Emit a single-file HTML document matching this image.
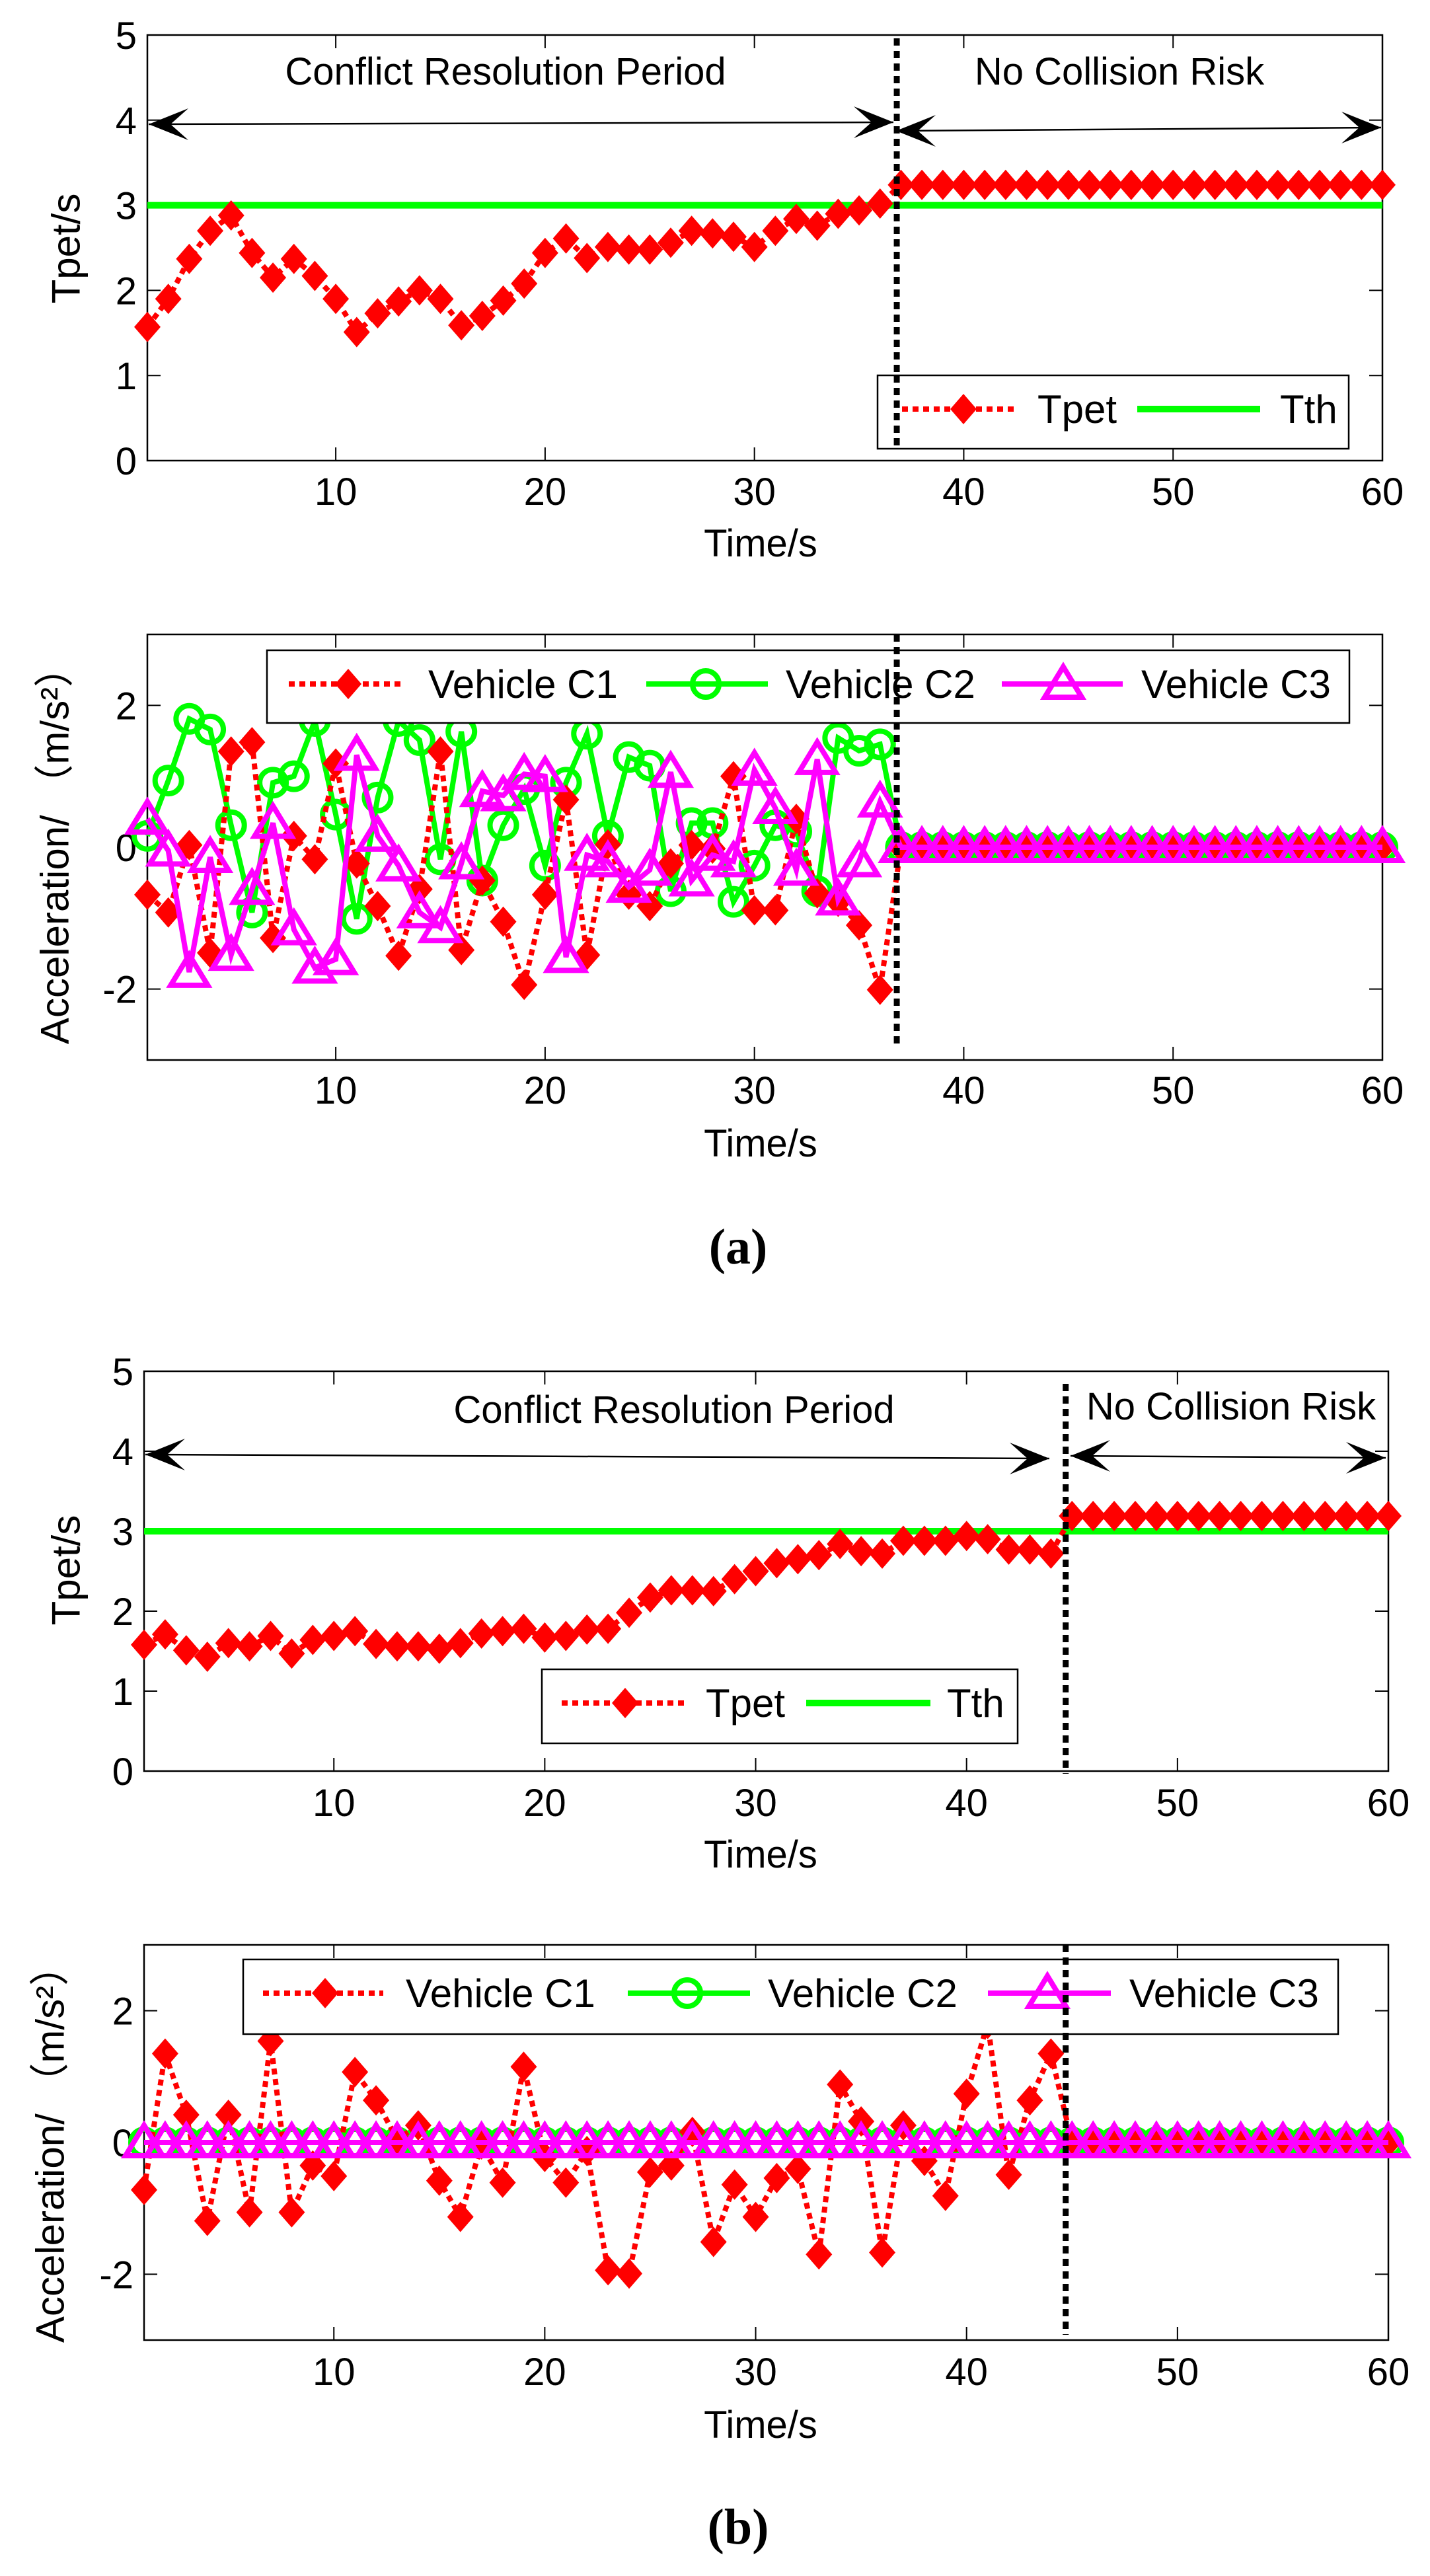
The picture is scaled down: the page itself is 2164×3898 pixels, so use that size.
<!DOCTYPE html>
<html><head><meta charset="utf-8"><style>
html,body{margin:0;padding:0;background:#fff;}
svg{display:block;font-family:"Liberation Sans",sans-serif;}
</style></head><body>
<svg id="fig" width="2164" height="3898" viewBox="0 0 2164 3898" xmlns="http://www.w3.org/2000/svg"></svg>
<script>
// ---------- data ----------
const timeSteps = Array.from({length:60},(_,i)=>i+1);
const tpetA = [1.57,1.9,2.37,2.7,2.88,2.44,2.15,2.37,2.17,1.9,1.51,1.73,1.87,2.0,1.9,1.59,1.7,1.88,2.08,2.44,2.61,2.38,2.51,2.48,2.48,2.56,2.7,2.67,2.63,2.51,2.7,2.84,2.76,2.9,2.94,3.02,
 3.24,3.24,3.24,3.24,3.24,3.24,3.24,3.24,3.24,3.24,3.24,3.24,3.24,3.24,3.24,3.24,3.24,3.24,3.24,3.24,3.24,3.24,3.24,3.24];
const tthA = 3;
const accC1A = [-0.67,-0.92,0.03,-1.49,1.35,1.48,-1.28,0.16,-0.17,1.18,-0.23,-0.83,-1.53,-0.59,1.35,-1.45,-0.47,-1.05,-1.94,-0.67,0.67,-1.52,0.04,-0.67,-0.83,-0.23,0.03,-0.02,1.0,-0.89,-0.89,0.4,-0.65,-0.77,-1.1,-2.01,
 0,0,0,0,0,0,0,0,0,0,0,0,0,0,0,0,0,0,0,0,0,0,0,0];
const accC2A = [0.16,0.94,1.81,1.66,0.31,-0.92,0.91,1.0,1.78,0.46,-1.01,0.7,1.78,1.51,-0.17,1.63,-0.47,0.31,0.82,-0.26,0.91,1.6,0.16,1.27,1.15,-0.62,0.34,0.34,-0.77,-0.26,0.31,0.22,-0.62,1.54,1.36,1.45,
 0,0,0,0,0,0,0,0,0,0,0,0,0,0,0,0,0,0,0,0,0,0,0,0];
const accC3A = [0.4,-0.05,-1.76,-0.14,-1.52,-0.59,0.34,-1.16,-1.7,-1.58,1.3,0.16,-0.26,-0.92,-1.13,-0.23,0.79,0.73,1.03,1.0,-1.55,-0.11,-0.2,-0.56,-0.32,1.06,-0.47,-0.11,-0.2,1.09,0.55,-0.32,1.24,-0.74,-0.2,0.64,
 0,0,0,0,0,0,0,0,0,0,0,0,0,0,0,0,0,0,0,0,0,0,0,0];
const switchA = 36.8;

const tpetB = [1.58,1.71,1.51,1.43,1.6,1.56,1.69,1.47,1.64,1.69,1.75,1.59,1.56,1.56,1.53,1.6,1.72,1.75,1.78,1.67,1.69,1.77,1.78,1.98,2.17,2.26,2.26,2.25,2.4,2.5,2.6,2.65,2.7,2.84,2.75,2.72,2.88,2.88,2.88,2.94,2.9,2.77,2.77,2.72,
 3.19,3.19,3.19,3.19,3.19,3.19,3.19,3.19,3.19,3.19,3.19,3.19,3.19,3.19,3.19,3.19];
const tthB = 3;
const accC1B = [-0.72,1.35,0.42,-1.19,0.42,-1.06,1.54,-1.06,-0.35,-0.51,1.07,0.64,0.05,0.26,-0.58,-1.13,-0.03,-0.61,1.15,-0.22,-0.61,-0.13,-1.94,-1.99,-0.45,-0.35,0.16,-1.51,-0.64,-1.13,-0.54,-0.4,-1.7,0.88,0.32,-1.67,0.26,-0.28,-0.81,0.74,1.8,-0.49,0.64,1.35,
 0,0,0,0,0,0,0,0,0,0,0,0,0,0,0,0];
const accC2B = new Array(60).fill(0);
const accC3B = new Array(60).fill(0);
const switchB = 44.7;

const xTicks = [10,20,30,40,50,60];
const yTicksT = [0,1,2,3,4,5];
const yTicksA = [-2,0,2];
const yTickLabelsA = ["-2","0","2"];

// ---------- helpers ----------
const NS="http://www.w3.org/2000/svg";
const svg=document.getElementById('fig');
function el(tag,attrs,parent){const e=document.createElementNS(NS,tag);for(const k in attrs)e.setAttribute(k,attrs[k]);(parent||svg).appendChild(e);return e;}
function txt(s,attrs,parent){const t=el('text',attrs,parent);t.textContent=s;return t;}

const RED="#ff0000",GREEN="#00ff00",MAG="#ff00ff";

function makeAxes(box,ymin,ymax){
  const sx=v=>box.l+(v-1)*(box.r-box.l)/59;
  const sy=v=>box.b-(v-ymin)*(box.b-box.t)/(ymax-ymin);
  return {sx,sy};
}
function diamond(g,x,y){const p=el('polygon',{points:`${x},${y-23} ${x+20},${y} ${x},${y+23} ${x-20},${y}`,fill:RED},g);
  return p;}
function circle(g,x,y){const c=el('circle',{cx:x,cy:y,r:20,fill:'none',stroke:GREEN,'stroke-width':8},g);
  return c;}
function tri(g,x,y){const t=el('polygon',{points:`${x},${y-26} ${x+28},${y+20} ${x-28},${y+20}`,fill:'none',stroke:MAG,'stroke-width':8,'stroke-linejoin':'miter'},g);
  return t;}

function frame(box,ax,yt,ylabs,xlabBase){
  const g=el('g',{});
  
  el('rect',{x:box.l,y:box.t,width:box.r-box.l,height:box.b-box.t,fill:'none',stroke:'#000','stroke-width':2.5},g);
  xTicks.forEach(v=>{const x=ax.sx(v);
    el('line',{x1:x,y1:box.b,x2:x,y2:box.b-20,stroke:'#000','stroke-width':2},g);
    el('line',{x1:x,y1:box.t,x2:x,y2:box.t+20,stroke:'#000','stroke-width':2},g);
    const t=txt(String(v),{x:x,y:xlabBase,'font-size':58,'text-anchor':'middle',fill:'#000'},g);
    
  });
  yt.forEach((v,i)=>{const y=ax.sy(v);
    el('line',{x1:box.l,y1:y,x2:box.l+20,y2:y,stroke:'#000','stroke-width':2},g);
    el('line',{x1:box.r,y1:y,x2:box.r-20,y2:y,stroke:'#000','stroke-width':2},g);
    const t=txt(ylabs[i],{x:box.l-16,y:y+21,'font-size':58,'text-anchor':'end',fill:'#000'},g);
    
  });
  return g;
}
function arrowHead(g,x,y,dir){const L=60,W=24;
  el('polygon',{points:`${x},${y} ${x-dir*L},${y-W} ${x-dir*L*0.55},${y} ${x-dir*L},${y+W}`,fill:'#000'},g);}
function doubleArrow(x1,y1,x2,y2,name){
  const g=el('g',{});
  el('line',{x1:x1,y1:y1,x2:x2,y2:y2,stroke:'#000','stroke-width':2.5},g);
  arrowHead(g,x1,y1,-1);arrowHead(g,x2,y2,1);
}
function vline(ax,xv,y1,y2,name){const x=ax.sx(xv);
  const l=el('line',{x1:x,y1:y1,x2:x,y2:y2,stroke:'#000','stroke-width':9,'stroke-dasharray':'11 8'});
  }
function polyPts(ax,arr){return arr.map((v,i)=>`${ax.sx(timeSteps[i])},${ax.sy(v)}`).join(' ');}

function tpetPanel(box,tpet,tth,sw,p){
  const ax=makeAxes(box,0,5);
  frame(box,ax,yTicksT,yTicksT.map(String),p.xlabBase);
  const g=el('g',{});
  const th=el('line',{x1:box.l,y1:ax.sy(tth),x2:box.r,y2:ax.sy(tth),stroke:GREEN,'stroke-width':10});
  
  svg.appendChild(g);
  el('polyline',{points:polyPts(ax,tpet),fill:'none',stroke:RED,'stroke-width':8,'stroke-dasharray':'9 7'},g);
  tpet.forEach((v,i)=>diamond(g,ax.sx(timeSteps[i]),ax.sy(v)));
  return ax;
}
function accPanel(box,c1,c2,c3,p){
  const ax=makeAxes(box,-3,3);
  frame(box,ax,yTicksA,yTickLabelsA,p.xlabBase);
  const g2=el('g',{});
  el('polyline',{points:polyPts(ax,c2),fill:'none',stroke:GREEN,'stroke-width':8},g2);
  c2.forEach((v,i)=>circle(g2,ax.sx(timeSteps[i]),ax.sy(v)));
  const g1=el('g',{});
  el('polyline',{points:polyPts(ax,c1),fill:'none',stroke:RED,'stroke-width':8,'stroke-dasharray':'9 7'},g1);
  c1.forEach((v,i)=>diamond(g1,ax.sx(timeSteps[i]),ax.sy(v)));
  const g3=el('g',{});
  el('polyline',{points:polyPts(ax,c3),fill:'none',stroke:MAG,'stroke-width':8},g3);
  c3.forEach((v,i)=>tri(g3,ax.sx(timeSteps[i]),ax.sy(v)));
  return ax;
}
function legendT(bx,cy,e){
  const g=el('g',{});
  el('rect',{x:bx.x,y:bx.y,width:bx.w,height:bx.h,fill:'#fff',stroke:'#000','stroke-width':2.5},g);
  el('line',{x1:e.r1,y1:cy,x2:e.r2,y2:cy,stroke:RED,'stroke-width':8,'stroke-dasharray':'9 7'},g);
  diamond(g,e.rm,cy);
  txt('Tpet',{x:e.t1,y:cy+21,'font-size':60,fill:'#000'},g);
  el('line',{x1:e.g1,y1:cy,x2:e.g2,y2:cy,stroke:GREEN,'stroke-width':10},g);
  txt('Tth',{x:e.t2,y:cy+21,'font-size':60,fill:'#000'},g);
}
function legendA(bx,cy,e){
  const g=el('g',{});
  el('rect',{x:bx.x,y:bx.y,width:bx.w,height:bx.h,fill:'#fff',stroke:'#000','stroke-width':2.5},g);
  el('line',{x1:e.r[0],y1:cy,x2:e.r[1],y2:cy,stroke:RED,'stroke-width':8,'stroke-dasharray':'9 7'},g);
  diamond(g,e.r[2],cy);
  txt('Vehicle C1',{x:e.r[3],y:cy+21,'font-size':60,fill:'#000'},g);
  el('line',{x1:e.g[0],y1:cy,x2:e.g[1],y2:cy,stroke:GREEN,'stroke-width':8},g);
  circle(g,e.g[2],cy);
  txt('Vehicle C2',{x:e.g[3],y:cy+21,'font-size':60,fill:'#000'},g);
  el('line',{x1:e.m[0],y1:cy,x2:e.m[1],y2:cy,stroke:MAG,'stroke-width':8},g);
  tri(g,e.m[2],cy);
  txt('Vehicle C3',{x:e.m[3],y:cy+21,'font-size':60,fill:'#000'},g);
}
function label(s,x,y,size,name,extra){const t=txt(s,Object.assign({x:x,y:y,'font-size':size,'text-anchor':'middle',fill:'#000'},extra||{}));
  return t;}
function ylabel(s,cx,cy,name){const t=label(s,cx,cy,60,name,{transform:`rotate(-90 ${cx} ${cy})`,'dominant-baseline':'central'});return t;}

// ---------- panel (a) top ----------
const boxA1={l:223,r:2092,t:53,b:697};
const axA1=tpetPanel(boxA1,tpetA,tthA,switchA,{xlabBase:764});
vline(axA1,switchA,58,680,'switch-line');
doubleArrow(225,188,1352,185,'conflict-period-arrow');
doubleArrow(1356,198,2090,193,'no-risk-arrow');
label('Conflict Resolution Period',765,128,58,'conflict-period-label');
label('No Collision Risk',1694,128,58,'no-risk-label');
legendT({x:1328,y:568,w:713,h:111},619,{r1:1365,r2:1541,rm:1458,t1:1570,g1:1721,g2:1907,t2:1937});
vline(axA1,switchA,568,680,'switch-line-over-legend');
label('Time/s',1151,842,58,'x-axis-title');
ylabel('Tpet/s',100,376,'y-axis-title');

// ---------- panel (a) bottom ----------
const boxA2={l:223,r:2092,t:960,b:1604};
const axA2=accPanel(boxA2,accC1A,accC2A,accC3A,{xlabBase:1670});
legendA({x:404,y:984,w:1638,h:110},1035,{r:[437,610,527,648],g:[978,1162,1068,1189],m:[1516,1699,1609,1727]});
vline(axA2,switchA,960,1580,'switch-line');
label('Time/s',1151,1750,58,'x-axis-title');
ylabel('Acceleration/ （m/s²）',83,1280,'y-axis-title');
label('(a)',1117,1912,76,'caption-a',{'font-family':'"Liberation Serif",serif','font-weight':'bold'});

// ---------- panel (b) top ----------
const boxB1={l:218,r:2101,t:2075,b:2680};
const axB1=tpetPanel(boxB1,tpetB,tthB,switchB,{xlabBase:2748});
vline(axB1,switchB,2094,2684,'switch-line');
doubleArrow(220,2201,1588,2207,'conflict-period-arrow');
doubleArrow(1620,2203,2097,2206,'no-risk-arrow');
label('Conflict Resolution Period',1020,2153,58,'conflict-period-label');
label('No Collision Risk',1863,2148,58,'no-risk-label');
legendT({x:820,y:2526,w:720,h:112},2577,{r1:850,r2:1040,rm:946,t1:1068,g1:1220,g2:1408,t2:1433});
label('Time/s',1151,2826,58,'x-axis-title');
ylabel('Tpet/s',100,2376,'y-axis-title');

// ---------- panel (b) bottom ----------
const boxB2={l:218,r:2101,t:2943,b:3541};
const axB2=accPanel(boxB2,accC1B,accC2B,accC3B,{xlabBase:3609});
legendA({x:368,y:2965,w:1657,h:113},3016,{r:[398,580,492,614],g:[950,1135,1040,1162],m:[1495,1681,1585,1709]});
vline(axB2,switchB,2943,3533,'switch-line');
label('Time/s',1151,3689,58,'x-axis-title');
ylabel('Acceleration/ （m/s²）',76,3245,'y-axis-title');
label('(b)',1117,3849,76,'caption-b',{'font-family':'"Liberation Serif",serif','font-weight':'bold'});
</script>
</body></html>
